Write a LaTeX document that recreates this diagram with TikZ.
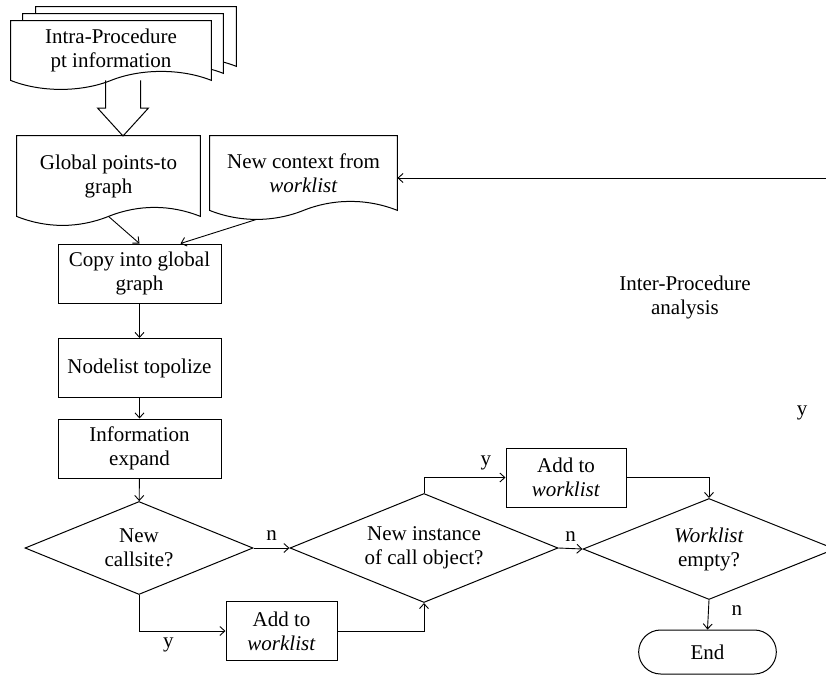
\documentclass[tikz,border=0pt]{standalone}
\usepackage{fontspec}
\setmainfont{Liberation Serif}
\usetikzlibrary{positioning, shapes, arrows.meta, calc, backgrounds}

\newcommand{\docpath}[2][0,0]{%
  \path[docline] ([shift={(#1)}]#2.south east) -- ([shift={(#1)}]#2.north east)
    -- ([shift={(#1)}]#2.north west) -- ([shift={(#1)}]#2.south west)
    .. controls +(15pt,-6pt) and +(-15pt,-6pt) .. ([shift={(#1)}]#2.south)
    .. controls +(15pt,6pt) and +(-15pt,6pt) .. ([shift={(#1)}]#2.south east) -- cycle;}

\begin{document}
\begin{tikzpicture}[x=0.5pt, y=-0.5pt,
    every node/.style={font=\fontsize{10.5}{12}\selectfont, align=center},
    box/.style={draw, line width=0.5pt, rectangle, minimum width=81.5pt, minimum height=29.5pt, inner sep=1pt},
    doc/.style={inner sep=1pt},
    docline/.style={draw, fill=white, line width=0.5pt},
    decide/.style={draw, diamond, line width=0.5pt, inner sep=0pt, shape aspect=2.45},
    flow/.style={line width=0.45pt, -{Straight Barb[length=2.5pt,width=4.5pt]}},
    hollow/.style={line width=0.5pt}]
    \useasboundingbox (0,0) rectangle (826,675);

    \node[doc, minimum width=100pt, minimum height=29.5pt] (intra) at (111,50.5) {Intra-Procedure\\pt information};
    \node[doc, minimum width=91.5pt, minimum height=40pt] (global) at (108.5,176) {Global points-to\\graph};
    \node[doc, minimum width=93.5pt, minimum height=37pt] (context) at (303.5,173) {New context from\\\textit{worklist}};
    \node[box] (copy) at (139.5,273.5) {Copy into global\\graph};
    \node[box] (topo) at (139.5,368) {Nodelist topolize};
    \node[box] (expand) at (139.5,448.5) {Information\\expand};
    \node[decide, minimum width=114pt, minimum height=46.5pt] (callsite) at (139,548) {New\\callsite?};
    \node[decide, minimum width=134pt, minimum height=54.5pt] (instance) at (424,548) {New instance\\of call object?};
    \node[decide, minimum width=126pt, minimum height=50.5pt] (empty) at (709,549) {\textit{Worklist}\\empty?};
    \node[box, minimum width=55.5pt] (addlow) at (281.5,631) {Add to\\\textit{worklist}};
    \node[box, minimum width=60pt] (addhigh) at (566,477.5) {Add to\\\textit{worklist}};
    \node[draw, rounded rectangle, line width=0.5pt, minimum width=75.5pt, minimum height=22pt] (end) at (707.5,652) {End};
    \node (inter) at (685,297) {Inter-Procedure\\analysis};
    \node (ylone) at (802,413) {y};
    \coordinate (inright) at (826,178);
    \coordinate (arrtip) at (123,136);
    \coordinate (arrbase) at (arrtip |- intra.south);

    \begin{pgfonlayer}{background}
        \docpath[25,-14]{intra}
        \docpath[12,-7]{intra}
        \docpath{intra}
        \docpath{global}
        \docpath{context}
    \end{pgfonlayer}

    \draw[hollow] ([xshift=-8.75pt]arrbase) -- ([shift={(-8.75pt,14pt)}]arrtip) -- ([shift={(-12.75pt,14pt)}]arrtip) -- (arrtip)
        -- ([shift={(12.75pt,14pt)}]arrtip) -- ([shift={(8.75pt,14pt)}]arrtip) -- ([xshift=8.75pt]arrbase);

    \draw[flow] (global.south) -- (copy.north);
    \draw[flow] ($(context.south west)!0.25!(context.south east)+(0,9)$) -- ($(copy.north)!0.5!(copy.north east)$);
    \draw[flow] (inright) -- (inright -| context.east);
    \draw[flow] (copy) -- (topo);
    \draw[flow] (topo) -- (expand);
    \draw[flow] (expand) -- (callsite);
    \draw[flow] (callsite.east) -- node[above] {n} (instance.west);
    \draw[flow] (callsite.south) |- node[pos=0.67, below] {y} (addlow.west);
    \draw[flow] (addlow.east) -| (instance.south);
    \draw[flow] (instance.north) |- node[pos=0.88, above] {y} (addhigh.west);
    \draw[flow] (addhigh.east) -| (empty.north);
    \draw[flow] (instance.east) -- node[above] {n} (empty.west);
    \draw[flow] (empty.south) -- node[pos=0.35, right=8pt] {n} (end.north);
\end{tikzpicture}
\end{document}
